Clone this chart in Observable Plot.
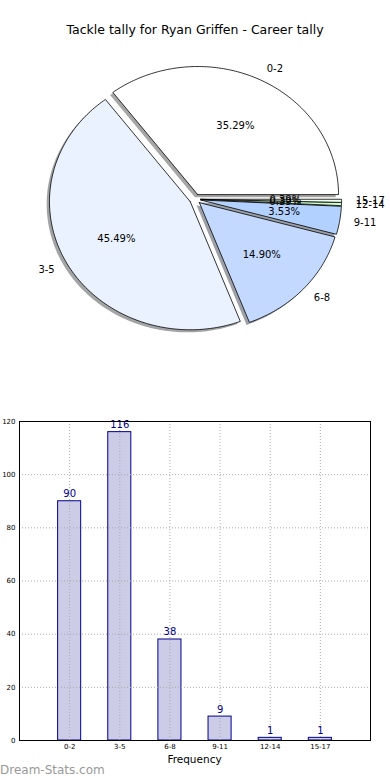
<!DOCTYPE html>
<html><head><meta charset="utf-8">
<script src="https://cdn.jsdelivr.net/npm/d3@7"></script>
<script src="https://cdn.jsdelivr.net/npm/@observablehq/plot@0.6"></script>
<style>
body{margin:0;background:#fff;font-family:"DejaVu Sans",sans-serif;}
#wrap{position:relative;width:390px;height:780px;overflow:hidden;background:#fff;}
#title{position:absolute;top:22px;left:0;width:390px;text-align:center;font-size:12.5px;color:#000;}
#pie{position:absolute;top:0;left:0;}
#bar{position:absolute;top:400px;left:0;}
#xlabel{position:absolute;top:753px;left:0;width:389px;text-align:center;font-size:10.5px;color:#000;}
#wm{position:absolute;left:0;top:763px;font-size:12px;color:#999;font-weight:normal;}
svg{font-family:"DejaVu Sans",sans-serif;}
</style></head><body>
<div id="wrap"><div id="pie"></div><div id="bar"></div>
<div id="title">Tackle tally for Ryan Griffen - Career tally</div>
<div id="xlabel">Frequency</div>
<div id="wm">Dream-Stats.com</div></div>
<script>
const categories = ["0-2","3-5","6-8","9-11","12-14","15-17"];
const counts = [90,116,38,9,1,1];
const pieColors = ["#ffffff","#ebf2ff","#c4d9ff","#b3d1ff","#ccffcc","#eeffee"];
const yTicks = [0,20,40,60,80,100,120];

// ---- pie ----
const total = d3.sum(counts);
const explode = 0.04;
const cx = 194.7, cy = 198.7, rx = 140.8, ry = 128.1;
let acc = 0;
const slices = counts.map((v, i) => {
  const a0 = acc / total * 2 * Math.PI;
  acc += v;
  const a1 = acc / total * 2 * Math.PI;
  const mid = (a0 + a1) / 2;
  const ox = explode * Math.cos(mid), oy = explode * Math.sin(mid);
  const n = Math.max(2, Math.ceil((a1 - a0) / (Math.PI / 180)));
  const pts = [{x: ox, y: oy}];
  for (let k = 0; k <= n; k++) {
    const t = a0 + (a1 - a0) * k / n;
    pts.push({x: ox + Math.cos(t), y: oy + Math.sin(t)});
  }
  pts.push({x: ox, y: oy});
  return {cat: categories[i], v, i, mid, ox, oy, pts, color: pieColors[i]};
});
const shadowColor = c => { const r = d3.rgb(c); return d3.rgb(r.r*0.3, r.g*0.3, r.b*0.3).formatHex(); };

const pieMarks = [];
for (const s of slices) {
  pieMarks.push(Plot.line(s.pts, {x: d => d.x - 0.02, y: d => d.y - 0.02, fill: shadowColor(s.color), fillOpacity: 0.5, stroke: "none"}));
}
for (const s of slices) {
  pieMarks.push(Plot.line(s.pts, {x: "x", y: "y", fill: s.color, stroke: "#000", strokeWidth: 0.8, strokeLinejoin: "miter"}));
}
const labels = slices.map(s => ({text: s.cat, x: s.ox + 1.1 * Math.cos(s.mid), y: s.oy + 1.1 * Math.sin(s.mid)}));
const pcts = slices.map(s => ({text: (100 * s.v / total).toFixed(2) + "%", x: s.ox + 0.6 * Math.cos(s.mid), y: s.oy + 0.6 * Math.sin(s.mid)}));
pieMarks.push(Plot.text(labels.filter(d => d.x > 0), {x: "x", y: "y", text: "text", textAnchor: "start", fontSize: 10, fill: "#000"}));
pieMarks.push(Plot.text(labels.filter(d => d.x <= 0), {x: "x", y: "y", text: "text", textAnchor: "end", fontSize: 10, fill: "#000"}));
pieMarks.push(Plot.text(pcts, {x: "x", y: "y", text: "text", fontSize: 10, fill: "#000"}));

const pie = Plot.plot({
  width: 390, height: 400,
  x: {domain: [-1, 1], range: [cx - rx, cx + rx], axis: null},
  y: {domain: [-1, 1], range: [cy + ry, cy - ry], axis: null},
  style: {fontFamily: "DejaVu Sans", background: "transparent"},
  marks: pieMarks
});
document.getElementById("pie").append(pie);

// ---- bars ----
const barData = counts.map((v, i) => ({i, v, cat: categories[i]}));
const idx = categories.map((c, i) => i);
const bar = Plot.plot({
  width: 390, height: 380,
  marginTop: 21, marginBottom: 40, marginLeft: 19, marginRight: 20,
  x: {domain: [-1, 6]},
  y: {domain: [0, 120]},
  style: {fontFamily: "DejaVu Sans", background: "transparent"},
  marks: [
    Plot.rectY(barData, {x1: d => d.i - 0.23, x2: d => d.i + 0.23, y: "v", fill: "#ccccE6", stroke: "#00008b", strokeWidth: 1}),
    Plot.gridX(idx, {stroke: "#aaa", strokeOpacity: 1, strokeDasharray: "1,2"}),
    Plot.gridY(yTicks.slice(1, -1), {stroke: "#aaa", strokeOpacity: 1, strokeDasharray: "1,2"}),
    Plot.text(barData, {x: "i", y: "v", text: d => String(d.v), lineAnchor: "bottom", dy: -4, fill: "#00008b", fontSize: 10}),
    Plot.axisX(idx, {tickFormat: i => categories[i], tickSize: 0, tickPadding: 4, fontSize: 7, label: null}),
    Plot.axisY(yTicks, {tickSize: 0, tickPadding: 4, fontSize: 7, label: null}),
    Plot.frame({stroke: "#000"})
  ]
});
document.getElementById("bar").append(bar);
</script>
</body></html>
